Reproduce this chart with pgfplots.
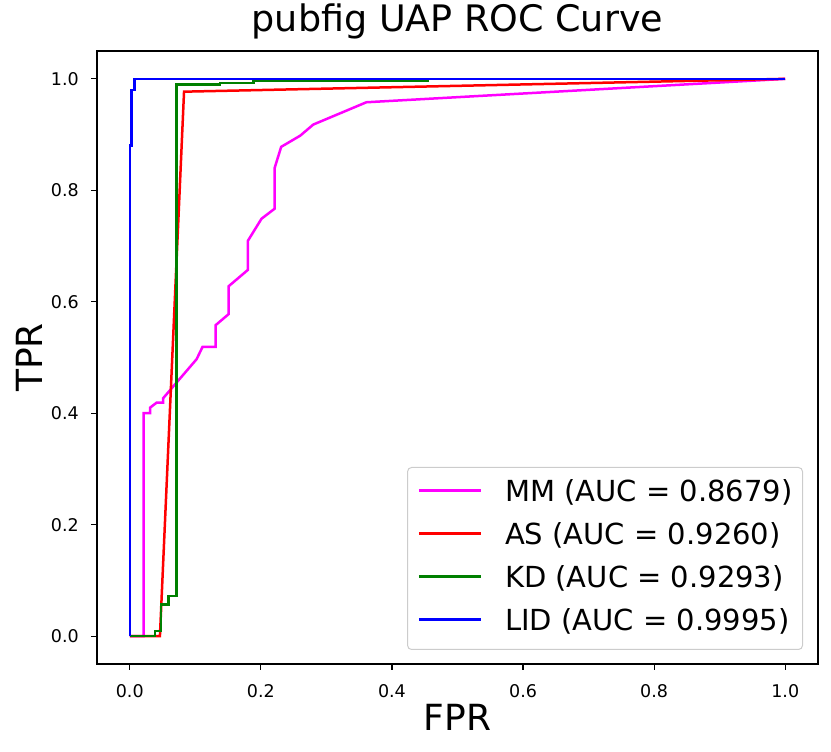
\documentclass[border=0pt]{standalone}
\usepackage{pgfplots}
\pgfplotsset{compat=1.18}
\usepackage{fontspec}
\setmainfont{DejaVu Sans}
\definecolor{mplgreen}{RGB}{0,128,0}
\definecolor{mplmagenta}{RGB}{255,0,255}
\definecolor{mplred}{RGB}{255,0,0}
\definecolor{mplblue}{RGB}{0,0,255}
\begin{document}
\begin{tikzpicture}
\useasboundingbox (0,0) rectangle (831pt,752pt);
\begin{axis}[
  at={(97pt,88pt)}, anchor=south west,
  width=721pt, height=613pt, scale only axis,
  xmin=-0.05, xmax=1.05, ymin=-0.05, ymax=1.05,
  xtick={0,0.2,0.4,0.6,0.8,1.0},
  ytick={0,0.2,0.4,0.6,0.8,1.0},
  xtick pos=bottom, ytick pos=left,
  tick align=outside,
  major tick length=6pt,
  every tick/.style={black, line width=1.1pt},
  axis line style={black, line width=1.2pt},
  /pgf/number format/assume math mode=true,
  xticklabel style={/pgf/number format/.cd, fixed, fixed zerofill, precision=1, /tikz/.cd, font=\fontsize{17.5}{20}\selectfont, anchor=base, inner sep=0pt, yshift=-28pt},
  yticklabel style={/pgf/number format/.cd, fixed, fixed zerofill, precision=1, /tikz/.cd, font=\fontsize{17.5}{20}\selectfont, anchor=east, inner sep=0pt, xshift=-12pt},
  title={pubfig UAP ROC Curve},
  title style={at={(0.5,1)}, anchor=base, yshift=13pt, inner sep=0pt, font=\fontsize{36.5}{40}\selectfont},
  xlabel={FPR},
  xlabel style={at={(0.5,0)}, anchor=base, yshift=-67pt, inner sep=0pt, font=\fontsize{36}{40}\selectfont},
  ylabel={TPR},
  ylabel style={at={(-0.07628,0.5)}, anchor=base, inner sep=0pt, font=\fontsize{36}{40}\selectfont},
  legend image code/.code={\draw[#1] (0pt,3.5pt) -- (62pt,3.5pt);},
  legend style={at={(1,0)}, anchor=south east, xshift=-15pt, yshift=14pt,
    draw=black!20, line width=1pt, rounded corners=4pt, fill=white,
    font=\fontsize{29}{34}\selectfont,
    inner xsep=10pt, inner ysep=13pt, row sep=16pt, column sep=23pt,
    nodes={inner sep=0pt, text height=21pt, text depth=6pt}},
  legend cell align=left,
]
\addplot[mplmagenta, line width=2.5pt] coordinates {
(0,0) (0.021,0) (0.021,0.40) (0.031,0.40) (0.031,0.41) (0.041,0.419) (0.051,0.419)
(0.051,0.427) (0.102,0.497) (0.111,0.519) (0.131,0.519) (0.131,0.558) (0.151,0.578)
(0.151,0.628) (0.180,0.657) (0.180,0.709) (0.201,0.749) (0.221,0.767) (0.221,0.840)
(0.231,0.878) (0.260,0.898) (0.280,0.918) (0.361,0.958) (1,1)};
\addlegendentry{MM (AUC = 0.8679)}
\addplot[mplred, line width=2.5pt] coordinates {
(0,0) (0.046,0) (0.0828,0.977) (1,1)};
\addlegendentry{AS (AUC = 0.9260)}
\addplot[mplgreen, line width=2.5pt] coordinates {
(0,0) (0.0386,0) (0.0386,0.0095) (0.0478,0.0095) (0.0478,0.057) (0.059,0.057)
(0.059,0.072) (0.0716,0.072) (0.0716,0.99) (0.138,0.99) (0.138,0.993) (0.189,0.993)
(0.189,0.996) (0.454,0.996) (0.454,1) (1,1)};
\addlegendentry{KD (AUC = 0.9293)}
\addplot[mplblue, line width=2.5pt] coordinates {
(0,0) (0,0.88) (0.003,0.88) (0.003,0.98) (0.007,0.98) (0.007,1) (1,1)};
\addlegendentry{LID (AUC = 0.9995)}
\end{axis}
\end{tikzpicture}
\end{document}
